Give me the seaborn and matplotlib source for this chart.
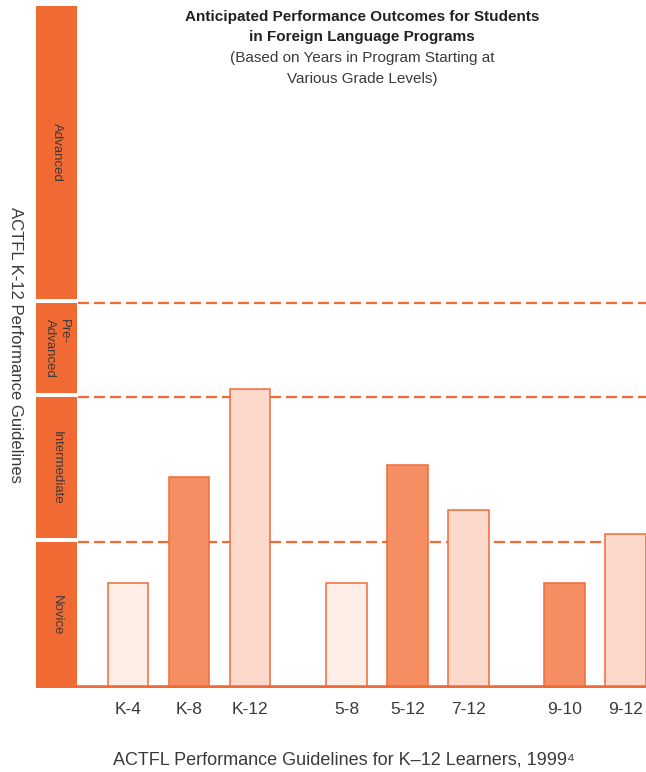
import numpy as np
import pandas as pd
import matplotlib
matplotlib.use('Agg')
import matplotlib.pyplot as plt
import seaborn as sns

# program labels and the proficiency each one is expected to reach
programs = ["K-4", "K-8", "K-12", "5-8", "5-12", "7-12", "9-10", "9-12"]
program_group = [0, 0, 0, 1, 1, 1, 2, 2]
outcome = [0.72, 1.45, 2.06, 0.72, 1.53, 1.22, 0.72, 1.055]
shade = ["pale", "mid", "light", "pale", "mid", "light", "mid", "light"]

# proficiency bands (bottom to top) and their boundaries
levels = ["Novice", "Intermediate", "Pre-\nAdvanced", "Advanced"]
level_bounds = [0, 1, 2, 2.65, 4.70]

title_lines = ["Anticipated Performance Outcomes for Students",
               "in Foreign Language Programs",
               "(Based on Years in Program Starting at",
               "Various Grade Levels)"]
y_label = "ACTFL K-12 Performance Guidelines"
caption = "ACTFL Performance Guidelines for K\u201312 Learners, 1999\u2074"

ORANGE = "#F26A33"
EDGE = "#F26A36"
TEXT = "#3a3a3a"
palette = {"pale": "#FDEEE8", "mid": "#F58E63", "light": "#FCD9CB"}

sns.set_theme(style="white")
plt.rcParams['font.family'] = ['Liberation Sans', 'DejaVu Sans']

# group spacing: bars one unit apart, extra gap between program groups
group_gap = 0.58
pos = [i + g * group_gap for i, g in enumerate(program_group)]
df = pd.DataFrame({"pos": pos, "program": programs, "outcome": outcome, "shade": shade})

fig = plt.figure(figsize=(6.46, 7.72), dpi=100)
W, H = 646, 772
ax_bottom_px, ax_top_px = 688.45, 6
ax = fig.add_axes([36 / W, (H - ax_bottom_px) / H, 610 / W, (ax_bottom_px - ax_top_px) / H])

x_left, x_right = -1.508, 8.492
strip_right = -0.836
ax.set_xlim(x_left, x_right)
ax.set_ylim(-0.01, level_bounds[-1])

# dashed level boundaries
ax.hlines(level_bounds[1:-1], strip_right + 0.02, x_right, colors=EDGE,
          linewidth=1.6, linestyles=(0, (5.0, 2.2)), zorder=1)

sns.barplot(data=df, x="pos", y="outcome", hue="shade", palette=palette,
            native_scale=True, dodge=False, width=0.664, errorbar=None,
            saturation=1, edgecolor=EDGE, linewidth=1.1, legend=False, ax=ax)
for p in ax.patches:
    p.set_zorder(3)

# left strip of proficiency bands
gap = 0.028
strip_w = strip_right - x_left
for i, name in enumerate(levels):
    lo = level_bounds[i] + (gap if i > 0 else -0.01)
    hi = level_bounds[i + 1]
    ax.bar(x_left + strip_w / 2, hi - lo, bottom=lo, width=strip_w,
           color=ORANGE, linewidth=0, zorder=2)
    ax.text(x_left + strip_w / 2, (lo + hi) / 2, name, rotation=-90,
            ha='center', va='center', multialignment='left',
            fontsize=9.5, color=TEXT, zorder=5)

# baseline
ax.hlines(0, strip_right, x_right, colors=EDGE, linewidth=2.6, zorder=4)

for s in ax.spines.values():
    s.set_visible(False)
ax.set_yticks([])
ax.set_xticks(pos)
ax.set_xticklabels(programs, fontsize=12.5, color=TEXT)
ax.tick_params(axis='x', length=0, pad=10)
ax.set_xlabel("")
ax.set_ylabel("")

# titles and side texts
title_y = [17, 37, 58, 79]
for k, (line, ty) in enumerate(zip(title_lines, title_y)):
    fig.text(362 / W, 1 - ty / H, line, ha='center', va='center',
             fontsize=11, color="#222222" if k < 2 else TEXT,
             fontweight='bold' if k < 2 else 'normal')

fig.text(15 / W, 1 - 345 / H, y_label, rotation=-90, ha='center', va='center',
         fontsize=12, color=TEXT)
fig.text(344 / W, 1 - 760 / H, caption, ha='center', va='center',
         fontsize=13, color=TEXT)

fig.savefig("out.png", dpi=100)
